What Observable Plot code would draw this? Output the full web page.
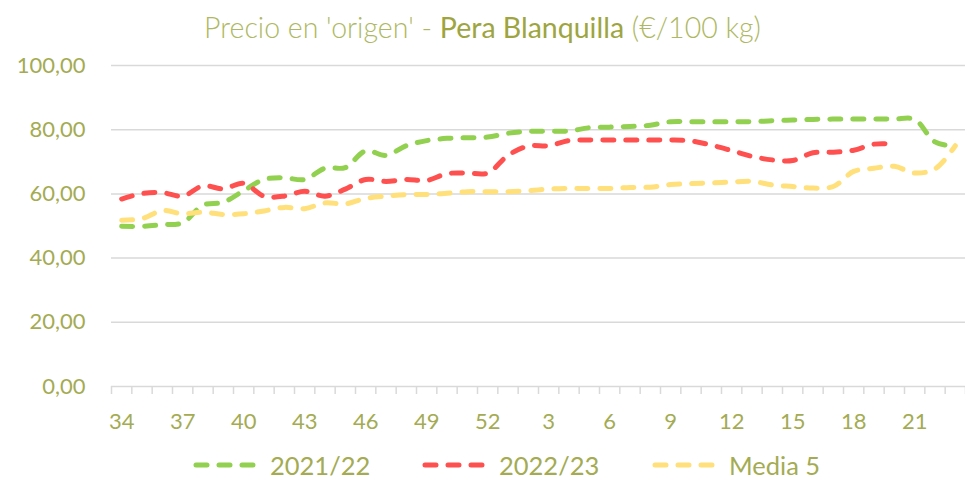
<!DOCTYPE html>
<html>
<head>
<meta charset="utf-8">
<script src="https://cdn.jsdelivr.net/npm/d3@7"></script>
<script src="https://cdn.jsdelivr.net/npm/@observablehq/plot@0.6"></script>
<style>
  html, body { margin: 0; padding: 0; background: #fff; }
  #wrap { position: relative; width: 965px; height: 480px; font-family: Lato, "Open Sans", sans-serif; }
  #title { position: absolute; left: 0; top: 0; width: 965px; height: 54px; line-height: 54px; text-align: center; font-size: 28.5px; font-weight: 300; color: #aeb862; white-space: nowrap; }
  #title b { font-weight: 400; color: #9ea540; }
  #chart { position: absolute; left: 0; top: 50px; }
  #legend { position: absolute; left: 0; top: 446px; width: 965px; height: 38px; }
  .lg-item { position: absolute; top: 0; height: 38px; display: flex; align-items: center; font-size: 25.5px; color: #a4ab52; }
  .lg-item svg { margin-right: 11px; }
</style>
</head>
<body>
<div id="wrap">
  <div id="title">Precio en 'origen' - <b>Pera Blanquilla</b> (€/100 kg)</div>
  <div id="chart"></div>
  <div id="legend"></div>
</div>
<script>
// Week labels (marketing campaign: week 34 to week 52, then week 1 to 23)
const weeks = ["34","35","36","37","38","39","40","41","42","43","44","45","46","47","48","49","50","51","52",
               "1","2","3","4","5","6","7","8","9","10","11","12","13","14","15","16","17","18","19","20","21","22","23"];

// 2021/22 (€/100 kg)
const s2021_22 = [49.9, 49.9, 50.4, 51.0, 56.5, 57.4, 61.0, 64.5, 65.0, 64.5, 68.0, 68.2, 73.4, 72.0,
                  75.0, 76.6, 77.3, 77.5, 77.7, 78.9, 79.5, 79.5, 79.6, 80.6, 80.8, 81.0, 81.4, 82.5,
                  82.5, 82.5, 82.5, 82.5, 82.8, 83.0, 83.2, 83.3, 83.3, 83.3, 83.3, 83.2, 76.2, 74.8];

// 2022/23 (€/100 kg) – available up to week 20
const s2022_23 = [58.4, 60.1, 60.4, 59.3, 62.5, 61.6, 63.3, 59.3, 59.3, 60.8, 59.3, 61.5, 64.5, 63.9,
                  64.5, 64.2, 66.3, 66.5, 66.5, 72.0, 74.9, 75.0, 76.6, 76.8, 76.8, 76.8, 76.8, 76.8,
                  76.5, 75.2, 73.5, 71.7, 70.6, 70.4, 72.8, 73.0, 73.6, 75.5, 75.5];

// Media 5 (five-year average)
const media5 = [51.8, 52.3, 54.8, 53.8, 54.3, 53.6, 53.8, 54.7, 55.8, 55.4, 57.2, 56.9, 58.6, 59.3,
                59.8, 59.8, 60.2, 60.7, 60.7, 60.7, 61.0, 61.5, 61.7, 61.7, 61.7, 62.0, 62.1, 62.9,
                63.2, 63.4, 63.7, 63.9, 62.8, 62.3, 61.8, 62.3, 67.0, 68.0, 68.6, 66.5, 67.8, 75.0];

const yTicks = [0, 20, 40, 60, 80, 100];
const xLabelIdx = d3.range(0, weeks.length, 3);
const xBoundaries = d3.range(0, weeks.length + 1).map(i => i - 0.5);

const series = [
  {name: "2021/22", values: s2021_22, color: "#92d050"},
  {name: "2022/23", values: s2022_23, color: "#ff5050"},
  {name: "Media 5", values: media5, color: "#ffe07a"}
];

const rows = series.flatMap(s => s.values.map((v, i) => ({i, v, serie: s.name})));

const textColor = "#a4ab52";
const gridColor = "#d9d9d9";
const dash = "11,12";

const chart = Plot.plot({
  width: 965,
  height: 386,
  marginTop: 15,
  marginBottom: 50,
  marginLeft: 111,
  marginRight: 0,
  style: {fontFamily: "Lato, 'Open Sans', sans-serif", fontSize: "22px", color: textColor, background: "transparent", overflow: "visible"},
  x: {type: "linear", domain: [-0.5, weeks.length - 0.5]},
  y: {domain: [0, 100]},
  marks: [
    Plot.ruleY(yTicks, {stroke: gridColor, strokeWidth: 1.5}),
    Plot.axisY({ticks: yTicks, tickSize: 0, tickPadding: 26, tickFormat: d => d.toFixed(2).replace(".", ","), label: null}),
    Plot.axisX({ticks: xBoundaries, tickSize: 8, tickFormat: () => "", stroke: gridColor, strokeWidth: 1.5, label: null}),
    Plot.axisX({ticks: xLabelIdx, tickSize: 0, tickPadding: 27, tickFormat: i => weeks[i], label: null}),
    ...series.map(s => Plot.line(rows.filter(r => r.serie === s.name), {
      x: "i", y: "v", stroke: s.color, strokeWidth: 5, strokeDasharray: dash,
      strokeLinecap: "round", strokeLinejoin: "round", curve: "catmull-rom"
    }))
  ]
});
document.getElementById("chart").appendChild(chart);

// Legend
const legendPos = [193, 422, 652];
const legend = document.getElementById("legend");
series.forEach((s, k) => {
  const item = document.createElement("div");
  item.className = "lg-item";
  item.style.left = legendPos[k] + "px";
  item.innerHTML = `<svg width="66" height="12"><line x1="3" y1="6" x2="60" y2="6" stroke="${s.color}" stroke-width="5" stroke-dasharray="${dash}" stroke-linecap="round"/></svg><span>${s.name}</span>`;
  legend.appendChild(item);
});
</script>
</body>
</html>
